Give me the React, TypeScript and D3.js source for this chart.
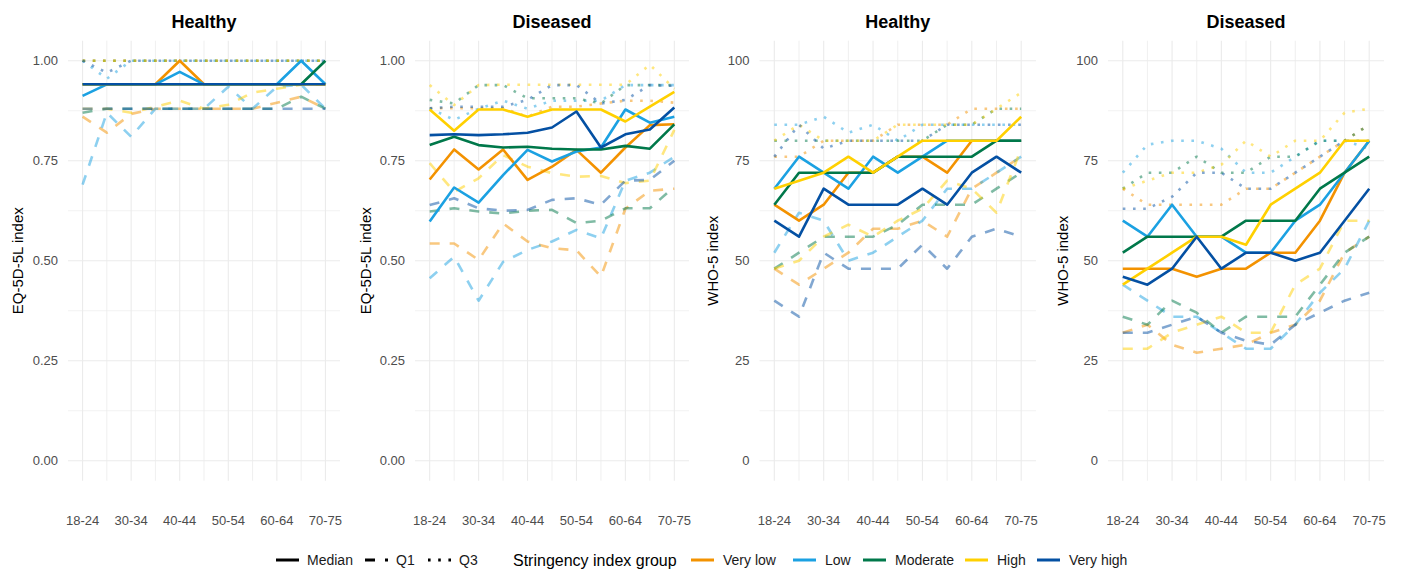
import React from "react";
import * as d3 from "d3";

// age groups on the x axis, labels shown on every other one
const categories = ["18-24", "25-29", "30-34", "35-39", "40-44", "45-49", "50-54", "55-59", "60-64", "65-69", "70-75"];
const tickLabels = ["18-24", "30-34", "40-44", "50-54", "60-64", "70-75"];

const groups = ["Very low", "Low", "Moderate", "High", "Very high"];
const groupColors = ["#F39200", "#1BA1E2", "#00784A", "#FFD000", "#0450A3"];

const panelTitles = ["Healthy", "Diseased", "Healthy", "Diseased"];
const axisTitles = ["EQ-5D-5L index", "EQ-5D-5L index", "WHO-5 index", "WHO-5 index"];
const eqTicks = [0, 0.25, 0.5, 0.75, 1];
const whoTicks = [0, 25, 50, 75, 100];

// rows follow groups order: Very low, Low, Moderate, High, Very high
const eqHealthyMedian = [
  [0.941, 0.941, 0.941, 0.941, 1.0, 0.941, 0.941, 0.941, 0.941, 0.941, 0.941],
  [0.912, 0.941, 0.941, 0.941, 0.972, 0.941, 0.941, 0.941, 0.941, 1.0, 0.941],
  [0.941, 0.941, 0.941, 0.941, 0.941, 0.941, 0.941, 0.941, 0.941, 0.941, 1.0],
  [0.941, 0.941, 0.941, 0.941, 0.941, 0.941, 0.941, 0.941, 0.941, 0.941, 0.941],
  [0.941, 0.941, 0.941, 0.941, 0.941, 0.941, 0.941, 0.941, 0.941, 0.941, 0.941],
];
const eqHealthyQ1 = [
  [0.86, 0.82, 0.867, 0.88, 0.88, 0.88, 0.88, 0.88, 0.895, 0.91, 0.88],
  [0.69, 0.87, 0.81, 0.88, 0.88, 0.88, 0.935, 0.88, 0.935, 0.94, 0.88],
  [0.87, 0.88, 0.88, 0.88, 0.88, 0.88, 0.88, 0.88, 0.88, 0.91, 0.88],
  [0.88, 0.88, 0.87, 0.885, 0.9, 0.88, 0.89, 0.92, 0.93, 0.94, 0.94],
  [0.88, 0.88, 0.88, 0.88, 0.88, 0.88, 0.88, 0.88, 0.88, 0.88, 0.88],
];
const eqHealthyQ3 = [
  [1, 1, 1, 1, 1, 1, 1, 1, 1, 1, 1],
  [1, 0.955, 1, 1, 1, 1, 1, 1, 1, 1, 1],
  [1, 1, 1, 1, 1, 1, 1, 1, 1, 1, 1],
  [1, 1, 1, 1, 1, 1, 1, 1, 1, 1, 1],
  [1, 0.97, 1, 1, 1, 1, 1, 1, 1, 1, 1],
];

const eqDiseasedMedian = [
  [0.703, 0.778, 0.728, 0.778, 0.702, 0.735, 0.777, 0.72, 0.783, 0.839, 0.841],
  [0.598, 0.683, 0.645, 0.714, 0.777, 0.748, 0.773, 0.783, 0.878, 0.845, 0.86],
  [0.789, 0.81, 0.789, 0.783, 0.785, 0.78, 0.778, 0.778, 0.787, 0.78, 0.841],
  [0.878, 0.825, 0.878, 0.878, 0.86, 0.878, 0.878, 0.878, 0.848, 0.885, 0.922],
  [0.814, 0.816, 0.814, 0.816, 0.82, 0.833, 0.873, 0.783, 0.816, 0.828, 0.883],
];
const eqDiseasedQ1 = [
  [0.543, 0.543, 0.502, 0.593, 0.548, 0.531, 0.526, 0.46, 0.63, 0.675, 0.68],
  [0.456, 0.51, 0.4, 0.497, 0.527, 0.548, 0.577, 0.556, 0.7, 0.72, 0.76],
  [0.623, 0.631, 0.623, 0.618, 0.625, 0.627, 0.594, 0.6, 0.631, 0.631, 0.685],
  [0.744, 0.672, 0.706, 0.764, 0.735, 0.719, 0.71, 0.712, 0.694, 0.7, 0.827],
  [0.639, 0.656, 0.631, 0.625, 0.627, 0.652, 0.656, 0.64, 0.7, 0.702, 0.75],
];
const eqDiseasedQ3 = [
  [0.881, 0.881, 0.881, 0.881, 0.86, 0.885, 0.885, 0.893, 0.9, 0.9, 0.895],
  [0.881, 0.852, 0.88, 0.9, 0.88, 0.9, 0.9, 0.9, 0.939, 0.939, 0.939],
  [0.902, 0.893, 0.939, 0.939, 0.906, 0.906, 0.906, 0.893, 0.939, 0.939, 0.939],
  [0.939, 0.889, 0.939, 0.94, 0.94, 0.94, 0.94, 0.94, 0.94, 0.99, 0.93],
  [0.881, 0.885, 0.885, 0.885, 0.902, 0.939, 0.939, 0.893, 0.902, 0.939, 0.937],
];

const whoHealthyMedian = [
  [64, 60, 64, 72, 72, 76, 76, 72, 80, 80, 80],
  [68, 76, 72, 68, 76, 72, 76, 80, 80, 80, 80],
  [64, 72, 72, 72, 72, 76, 76, 76, 76, 80, 80],
  [68, 70, 72, 76, 72, 76, 80, 80, 80, 80, 86],
  [60, 56, 68, 64, 64, 64, 68, 64, 72, 76, 72],
];
const whoHealthyQ1 = [
  [48, 44, 48, 52, 58, 58, 60, 56, 68, 72, 76],
  [52, 62, 60, 50, 52, 56, 60, 68, 68, 72, 76],
  [48, 52, 56, 56, 56, 59, 64, 64, 64, 68, 72],
  [48, 50, 56, 59, 56, 60, 63, 70, 68, 62, 78],
  [40, 36, 52, 48, 48, 48, 54, 48, 56, 58, 56],
];
const whoHealthyQ3 = [
  [76, 76, 80, 80, 80, 84, 84, 84, 88, 88, 88],
  [84, 84, 86, 82, 84, 80, 84, 84, 84, 84, 84],
  [80, 80, 80, 80, 80, 80, 80, 84, 84, 88, 88],
  [80, 84, 80, 80, 80, 84, 84, 84, 84, 88, 92],
  [76, 84, 78, 80, 80, 80, 80, 84, 84, 84, 84],
];

const whoDiseasedMedian = [
  [48, 48, 48, 46, 48, 48, 52, 52, 60, 72, 80],
  [60, 56, 64, 56, 56, 52, 52, 60, 64, 72, 80],
  [52, 56, 56, 56, 56, 60, 60, 60, 68, 72, 76],
  [44, 48, 52, 56, 56, 54, 64, 68, 72, 80, 80],
  [46, 44, 48, 56, 48, 52, 52, 50, 52, 60, 68],
];
const whoDiseasedQ1 = [
  [32, 34, 29, 27, 28, 29, 32, 34, 40, 52, 56],
  [44, 40, 36, 36, 32, 28, 28, 34, 42, 48, 60],
  [36, 34, 40, 37, 32, 36, 36, 36, 44, 52, 56],
  [28, 28, 32, 34, 36, 32, 32, 44, 48, 60, 60],
  [32, 32, 34, 36, 32, 30, 29, 34, 37, 40, 42],
];
const whoDiseasedQ3 = [
  [68, 64, 64, 64, 64, 68, 68, 72, 76, 80, 84],
  [72, 79, 80, 80, 78, 72, 72, 76, 80, 80, 78],
  [68, 72, 72, 76, 72, 72, 76, 76, 80, 80, 84],
  [68, 70, 72, 72, 74, 80, 76, 80, 80, 87, 88],
  [63, 63, 66, 72, 72, 68, 68, 72, 76, 80, 80],
];

const W = 1402;
const H = 570;
const FONT = "'Liberation Sans', Arial, sans-serif";

const panels = [
  { median: eqHealthyMedian, q1: eqHealthyQ1, q3: eqHealthyQ3, ticks: eqTicks, max: 1, fmt: d3.format(".2f"), left: 68, right: 340, titleOff: 50 },
  { median: eqDiseasedMedian, q1: eqDiseasedQ1, q3: eqDiseasedQ3, ticks: eqTicks, max: 1, fmt: d3.format(".2f"), left: 415, right: 689, titleOff: 49 },
  { median: whoHealthyMedian, q1: whoHealthyQ1, q3: whoHealthyQ3, ticks: whoTicks, max: 100, fmt: d3.format("d"), left: 759.5, right: 1036, titleOff: 47 },
  { median: whoDiseasedMedian, q1: whoDiseasedQ1, q3: whoDiseasedQ3, ticks: whoTicks, max: 100, fmt: d3.format("d"), left: 1108, right: 1384, titleOff: 45 },
];

const yTop = 60.7;
const yZero = 460.7;
const DASH = "10 10";
const DOT = "2.6 7.6";
const LW = 2.6;

function Panel({ p, i }: { p: any; i: number }) {
  const x = d3.scalePoint<string>().domain(categories).range([p.left, p.right]).padding(0.6);
  const y = d3.scaleLinear().domain([0, p.max]).range([yZero, yTop]);
  const top = y(p.max * 1.05);
  const bottom = y(-p.max * 0.05);
  const minor = d3.range(0, p.ticks.length - 1).map((k) => (p.ticks[k] + p.ticks[k + 1]) / 2);
  const line = d3.line<number>().x((_, k) => x(categories[k]) as number).y((d) => y(d));
  const cx = (p.left + p.right) / 2;
  const cy = (top + bottom) / 2;

  const layer = (rows: number[][], dash: string | undefined, opacity: number, key: string) =>
    rows.map((row, g) => (
      <path key={key + g} d={line(row) as string} fill="none" stroke={groupColors[g]} strokeWidth={LW}
        strokeOpacity={opacity} strokeDasharray={dash} strokeLinejoin="round" />
    ));

  return (
    <g>
      {minor.map((t: number) => (
        <line key={"mn" + t} x1={p.left} x2={p.right} y1={y(t)} y2={y(t)} stroke="#EBEBEB" strokeWidth={0.6} />
      ))}
      {p.ticks.map((t: number) => (
        <line key={"mj" + t} x1={p.left} x2={p.right} y1={y(t)} y2={y(t)} stroke="#EBEBEB" strokeWidth={1.1} />
      ))}
      {categories.map((c) => (
        <line key={"v" + c} x1={x(c)} x2={x(c)} y1={top} y2={bottom} stroke="#EBEBEB"
          strokeWidth={tickLabels.includes(c) ? 1.1 : 0.8} />
      ))}
      {layer(p.q1, DASH, 0.5, "q1")}
      {layer(p.q3, DOT, 0.5, "q3")}
      {layer(p.median, undefined, 1, "md")}
      {p.ticks.map((t: number) => (
        <text key={"yl" + t} x={p.left - 10} y={y(t)} dy="0.35em" textAnchor="end" fontSize={13} fill="#4D4D4D">
          {p.fmt(t)}
        </text>
      ))}
      {tickLabels.map((c) => (
        <text key={"xl" + c} x={x(c)} y={525} textAnchor="middle" fontSize={13} fill="#4D4D4D">
          {c}
        </text>
      ))}
      <text x={cx} y={28} textAnchor="middle" fontSize={18} fontWeight="bold" fill="#000">
        {panelTitles[i]}
      </text>
      <text transform={`translate(${p.left - p.titleOff},${cy}) rotate(-90)`} textAnchor="middle" dy="0.35em"
        fontSize={15} fill="#000">
        {axisTitles[i]}
      </text>
    </g>
  );
}

function Legend() {
  const ly = 560;
  const statKeys = [
    { label: "Median", dash: undefined as string | undefined, x: 276 },
    { label: "Q1", dash: DASH, x: 365 },
    { label: "Q3", dash: DOT, x: 428 },
  ];
  const groupX = [691, 793, 863, 965, 1037];
  return (
    <g fontSize={14}>
      {statKeys.map((s) => (
        <g key={s.label}>
          <line x1={s.x} x2={s.x + 23} y1={ly} y2={ly} stroke="#000" strokeWidth={3} strokeDasharray={s.dash} />
          <text x={s.x + 31} y={ly} dy="0.35em" fill="#1A1A1A">{s.label}</text>
        </g>
      ))}
      <text x={513} y={ly} dy="0.35em" fontSize={16} fill="#000">Stringency index group</text>
      {groups.map((g, k) => (
        <g key={g}>
          <line x1={groupX[k]} x2={groupX[k] + 23} y1={ly} y2={ly} stroke={groupColors[k]} strokeWidth={3} />
          <text x={groupX[k] + 32} y={ly} dy="0.35em" fill="#1A1A1A">{g}</text>
        </g>
      ))}
    </g>
  );
}

export default function App() {
  return (
    <svg width={W} height={H} style={{ display: "block", position: "absolute", left: 0, top: 0, background: "#fff" }}
      fontFamily={FONT}>
      <rect width={W} height={H} fill="#fff" />
      {panels.map((p, i) => (
        <Panel key={i} p={p} i={i} />
      ))}
      <Legend />
    </svg>
  );
}
